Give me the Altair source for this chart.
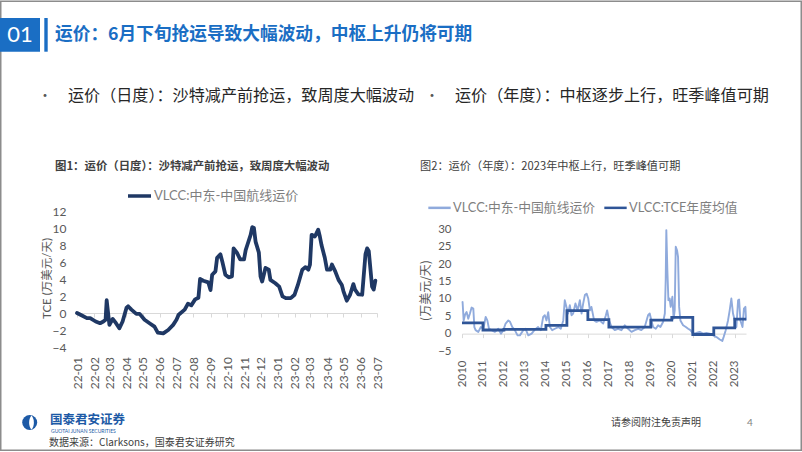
import math
import altair as alt
import pandas as pd

LATIN = "Lato, 'Noto Sans CJK SC', sans-serif"
CJK = "'Noto Sans CJK SC', 'Noto Sans', sans-serif"

# ---------------- texts ----------------
title_main = "运价：6月下旬抢运导致大幅波动，中枢上升仍将可期"
section_no = "01"
bullet_1 = "运价（日度）：沙特减产前抢运，致周度大幅波动"
bullet_2 = "运价（年度）：中枢逐步上行，旺季峰值可期"
fig1_title = "图1：运价（日度）：沙特减产前抢运，致周度大幅波动"
fig2_title = "图2：运价（年度）：2023年中枢上行，旺季峰值可期"
source_note = "数据来源：Clarksons，国泰君安证券研究"
disclaimer = "请参阅附注免责声明"
page_no = "4"
brand_cn = "国泰君安证券"
brand_en = "GUOTAI JUNAN SECURITIES"

s1 = "VLCC:中东-中国航线运价"
s2a = "VLCC:中东-中国航线运价"
s2b = "VLCC:TCE年度均值"
y1_title = "TCE (万美元/天)"
y2_title = "(万美元/天)"

# ---------------- chart 1 data (daily, 万美元/天) ----------------
dates1 = ["2022-01-01", "2022-01-10", "2022-01-19", "2022-01-25",
          "2022-02-04", "2022-02-12", "2022-02-18", "2022-02-22", "2022-02-24",
          "2022-03-01", "2022-03-07", "2022-03-13", "2022-03-19", "2022-03-25",
          "2022-04-01", "2022-04-04", "2022-04-10", "2022-04-19", "2022-04-25",
          "2022-05-04", "2022-05-13", "2022-05-22", "2022-05-28",
          "2022-06-07", "2022-06-16", "2022-06-25",
          "2022-07-01", "2022-07-05", "2022-07-16", "2022-07-22", "2022-07-28",
          "2022-08-04", "2022-08-10", "2022-08-13", "2022-08-19", "2022-08-28",
          "2022-09-01", "2022-09-04", "2022-09-10", "2022-09-13", "2022-09-19", "2022-09-23", "2022-09-28",
          "2022-10-04", "2022-10-10", "2022-10-13", "2022-10-19", "2022-10-25",
          "2022-11-01", "2022-11-04", "2022-11-07", "2022-11-13", "2022-11-16", "2022-11-19", "2022-11-22", "2022-11-28",
          "2022-12-01", "2022-12-04", "2022-12-10", "2022-12-16", "2022-12-19", "2022-12-28",
          "2023-01-04", "2023-01-10", "2023-01-16", "2023-01-25",
          "2023-02-01", "2023-02-07", "2023-02-15", "2023-02-21", "2023-02-26",
          "2023-03-01", "2023-03-04", "2023-03-10", "2023-03-16", "2023-03-19", "2023-03-22", "2023-03-28",
          "2023-04-01", "2023-04-07", "2023-04-10", "2023-04-16", "2023-04-22", "2023-04-28",
          "2023-05-01", "2023-05-07", "2023-05-13", "2023-05-19", "2023-05-22", "2023-05-28",
          "2023-06-04", "2023-06-10", "2023-06-13", "2023-06-16", "2023-06-22", "2023-06-25", "2023-06-28"]
tce1 = [0.0, -0.3, -0.6, -0.6,
        -1.0, -1.2, -1.0, -0.8, 1.5,
        -1.4, -0.7, -1.2, -1.8, -1.0,
        0.6, 0.8, 0.4, -0.1, -0.1,
        -0.8, -1.2, -1.6, -2.3,
        -2.4, -2.0, -1.4,
        -0.8, -0.2, 0.4, 1.1, 0.9,
        1.6, 1.8, 4.0, 3.8, 3.6,
        2.7, 4.5, 4.9, 6.5, 6.9, 5.9, 4.5,
        4.2, 4.3, 7.6, 7.1, 6.3,
        6.3, 7.4, 8.0, 9.2, 10.1, 10.0, 8.4, 7.1,
        4.3, 3.7, 5.3, 5.1, 3.9, 3.5,
        3.1, 1.95, 1.75, 1.75,
        2.15, 3.3, 5.1, 5.4, 5.1,
        5.7, 9.2, 9.0, 9.8, 9.0, 8.0, 6.5,
        5.1, 5.1, 5.7, 4.9, 3.9, 3.3,
        2.55, 1.45, 2.15, 3.4, 2.75, 2.2,
        2.15, 6.9, 7.6, 7.3, 3.1, 2.75, 3.8]
assert len(dates1) == len(tce1)

# ---------------- chart 2 data (weekly-ish, decimal years) ----------------
yrs2 = [2010.00, 2010.03, 2010.08, 2010.15, 2010.22, 2010.30, 2010.38, 2010.46, 2010.54, 2010.59, 2010.65, 2010.78, 2010.90,
        2011.02, 2011.13, 2011.21, 2011.29, 2011.41, 2011.57, 2011.73, 2011.86, 2011.97,
        2012.08, 2012.21, 2012.29, 2012.40, 2012.52, 2012.65, 2012.76, 2012.92,
        2013.03, 2013.16, 2013.32, 2013.48, 2013.63, 2013.76, 2013.87, 2013.95,
        2014.03, 2014.11, 2014.19, 2014.30, 2014.43, 2014.59, 2014.71, 2014.83, 2014.90, 2014.98,
        2015.06, 2015.14, 2015.22, 2015.30, 2015.41, 2015.51, 2015.62, 2015.70, 2015.78, 2015.86, 2015.94,
        2016.02, 2016.10, 2016.17, 2016.30, 2016.41, 2016.57, 2016.73, 2016.86, 2016.92,
        2017.01, 2017.13, 2017.28, 2017.44, 2017.60, 2017.76, 2017.92,
        2018.08, 2018.24, 2018.40, 2018.55, 2018.71, 2018.87, 2018.95,
        2019.03, 2019.11, 2019.24, 2019.35, 2019.46, 2019.59, 2019.67, 2019.71, 2019.74, 2019.79, 2019.84, 2019.90, 2019.95,
        2020.03, 2020.09, 2020.14, 2020.19, 2020.25, 2020.30, 2020.35, 2020.41, 2020.54, 2020.67, 2020.78, 2020.89,
        2021.01, 2021.17, 2021.33, 2021.49, 2021.65, 2021.81, 2021.97,
        2022.13, 2022.29, 2022.41, 2022.47, 2022.57, 2022.68, 2022.76, 2022.84, 2022.92,
        2023.00, 2023.08, 2023.16, 2023.21, 2023.27, 2023.37, 2023.44, 2023.51, 2023.54]
rate2 = [8.9, 9.1, 3.8, 5.5, 6.2, 4.3, 5.8, 7.5, 7.2, 1.9, 1.0, 0.5, 1.9,
         1.4, 4.8, 3.8, 1.4, 1.0, 0.5, 1.4, 0.0, 1.0,
         2.9, 3.8, 3.4, 1.9, 1.0, -0.5, -0.5, 1.0,
         1.4, -0.5, 0.0, 1.2, 1.9, 1.0, 4.8, 5.3,
         3.8, 6.2, 1.9, 1.0, 1.4, 1.9, 1.4, 3.8, 9.6, 7.7,
         5.8, 8.2, 5.3, 5.8, 8.7, 6.7, 9.6, 5.8, 8.7, 11.1, 11.5,
         10.1, 6.7, 7.7, 3.8, 3.4, 3.8, 2.9, 5.3, 6.7,
         3.8, 1.9, 1.0, 1.4, 1.0, 2.4, 1.4,
         0.5, 1.0, 1.4, 1.0, 1.9, 5.3, 5.8,
         3.8, 1.9, 1.4, 2.4, 1.9, 3.4, 5.8, 15.4, 29.8, 18.3, 9.6, 10.1, 7.7,
         10.6, 4.3, 6.7, 25.0, 24.0, 22.1, 7.7, 3.8, 2.4, 1.9, 1.4, 1.0,
         0.0, 0.2, 0.5, 0.0, 0.2, 0.0, -0.5,
         -1.0, -1.7, -2.1, -1.0, 1.0, 3.8, 6.7, 10.1, 5.8,
         3.8, 1.9, 9.6, 9.8, 3.8, 1.9, 7.2, 7.7, 3.8]
assert len(yrs2) == len(rate2)

avg_years = [2010, 2011, 2012, 2013, 2014, 2015, 2016, 2017, 2018, 2019, 2020, 2021, 2022, 2023]
avg_vals = [3.1, 1.05, 1.25, 1.25, 2.4, 6.6, 4.05, 1.9, 1.85, 3.9, 4.7, -0.25, 1.65, 4.2]
avg_end = 2023.54


def yr_to_date(y):
    yi = int(math.floor(y))
    start = pd.Timestamp(yi, 1, 1)
    end = pd.Timestamp(yi + 1, 1, 1)
    return (start + (end - start) * (y - yi)).strftime("%Y-%m-%d")


df1 = pd.DataFrame({"date": dates1, "tce": tce1, "s": s1})
df2 = pd.DataFrame({"date": [yr_to_date(y) for y in yrs2], "v": rate2, "s": s2a})
df2b = pd.DataFrame({
    "date": [yr_to_date(y) for y in avg_years] + [yr_to_date(avg_end)],
    "v": avg_vals + [avg_vals[-1]],
    "s": s2b,
})

# ---------------- layout (page pixels) ----------------
OX, OY = 77, 211          # left plot origin on the page
W1, H1 = 300, 136
SP = 85                   # -> right plot origin at x = 462
W2, H2 = 284, 140
Y2_MAX = 35.3

BLUE = "#1a6ec4"
BRAND = "#1d5aa6"
AX = "#595959"
ZERO = "#d9d9d9"


def px(X):
    return X - OX


def py(Y):
    return Y - OY


dummy = pd.DataFrame({"k": [0]})


def text_layer(s, X, Y, size, color, align="left", weight="normal", font=CJK):
    return alt.Chart(dummy).mark_text(
        text=s, align=align, baseline="middle", fontSize=size, color=color,
        fontWeight=weight, font=font
    ).encode(x=alt.value(px(X)), y=alt.value(py(Y)))


def rect_layer(X1, Y1, X2, Y2, **kw):
    return alt.Chart(dummy).mark_rect(**kw).encode(
        x=alt.value(px(X1)), x2=alt.value(px(X2)),
        y=alt.value(py(Y1)), y2=alt.value(py(Y2)))


def point_layer(X, Y, **kw):
    return alt.Chart(dummy).mark_point(**kw).encode(x=alt.value(px(X)), y=alt.value(py(Y)))


# page furniture (drawn in the left panel's coordinate system)
bounds = rect_layer(0, 0, 802, 452, fillOpacity=0, strokeOpacity=0)
border = rect_layer(0.75, 1.25, 801.25, 450.25, fillOpacity=0, stroke="#8c8c8c", strokeWidth=1.5)
box = rect_layer(0, 18, 40, 51.7, color=BLUE)
bar = rect_layer(44.3, 18, 47.7, 51.7, color=BLUE)
t_no = text_layer(section_no, 20, 35, 22, "white", align="center", font=LATIN)
t_title = text_layer(title_main, 55, 35, 17.7, BLUE, weight="bold")
b1 = text_layer("•", 45, 96, 14, AX, align="center")
t_b1 = text_layer(bullet_1, 68, 96, 16.1, "#262626")
b2 = text_layer("•", 432, 96, 14, AX, align="center")
t_b2 = text_layer(bullet_2, 455, 96, 16.1, "#262626")
t_f1 = text_layer(fig1_title, 55, 167, 11.4, "#404040", weight="bold")
t_f2 = text_layer(fig2_title, 420, 167, 11.2, "#404040")
logo = point_layer(29.7, 422.5, shape="circle", filled=True, size=225, color=BRAND, opacity=1)
logo_cut = point_layer(31.5, 422.5, shape="M0,-1 C0.45,-0.5 0.45,0.5 0,1 C-0.45,0.5 -0.45,-0.5 0,-1 Z",
                       filled=True, size=200, color="white", opacity=1)
t_brand = text_layer(brand_cn, 50, 419.5, 12.5, BRAND, weight="bold")
t_brand_en = text_layer(brand_en, 51, 430.5, 5, BRAND, font=LATIN)
t_disc = text_layer(disclaimer, 611, 423, 10, "#404040")
t_page = text_layer(page_no, 750, 423, 10, "#7f7f7f", align="center", font=LATIN)
t_src = text_layer(source_note, 49, 443, 10, "#404040")

# ---------------- chart 1 ----------------
x1_scale = alt.Scale(type="utc", domain=[alt.DateTime(year=2022, month=1, date=1, utc=True),
                                         alt.DateTime(year=2023, month=7, date=1, utc=True)])
y1_scale = alt.Scale(domain=[-4, 12], nice=False)
month_ticks = {"interval": "month", "step": 1}

line1 = alt.Chart(df1).mark_line(strokeWidth=3.8, strokeJoin="round", strokeCap="round").encode(
    x=alt.X("date:T", scale=x1_scale, axis=alt.Axis(
        orient="bottom", labelExpr="utcFormat(datum.value, '%y-%m')", tickCount=month_ticks,
        labelAngle=270, labelAlign="right", labelBaseline="middle", labelPadding=9.5,
        domain=False, ticks=False, grid=False, labelFontSize=12, labelColor=AX, labelFont=LATIN,
        labelOverlap=False, labelFlush=False, title=None)),
    y=alt.Y("tce:Q", scale=y1_scale, axis=alt.Axis(
        orient="left", values=[-4, -2, 0, 2, 4, 6, 8, 10, 12], domain=False, ticks=False, grid=False,
        labelPadding=11, labelFontSize=12, labelColor=AX, labelFont=LATIN,
        title=y1_title, titleFont=LATIN, titleFontSize=11.5, titleFontWeight="normal",
        titleColor=AX, titleAngle=270, titleX=-30, titleY=67,
        titleAlign="center", titleBaseline="middle")),
    color=alt.Color("s:N", scale=alt.Scale(domain=[s1], range=["#1f3864"]), legend=alt.Legend(
        orient="none", legendX=49, legendY=-28.5, direction="horizontal", title=None,
        symbolType="stroke", symbolSize=529, symbolStrokeWidth=3.5, labelFontSize=13,
        labelColor="#7f7f7f", labelFont=LATIN, labelOffset=1, padding=0, labelLimit=300)),
)

zero1 = alt.Chart(df1).mark_line(strokeOpacity=0).encode(
    x=alt.X("date:T", scale=x1_scale, axis=alt.Axis(
        orient="bottom", offset=-34, tickCount=month_ticks, labels=False, domain=True,
        domainColor=ZERO, ticks=True, tickColor=ZERO, tickSize=4, grid=False, title=None)),
    y=alt.Y("tce:Q", scale=y1_scale, axis=None),
)

left = alt.layer(
    bounds, border, box, bar, t_no, t_title, b1, t_b1, b2, t_b2, t_f1, t_f2,
    logo, logo_cut, t_brand, t_brand_en, t_disc, t_page, t_src,
    zero1, line1,
).resolve_axis(x="independent", y="independent").properties(width=W1, height=H1)

# ---------------- chart 2 ----------------
x2_scale = alt.Scale(type="utc", domain=[alt.DateTime(year=2010, month=1, date=1, utc=True),
                                         alt.DateTime(year=2023, month=7, date=16, utc=True)])
y2_scale = alt.Scale(domain=[-5, Y2_MAX], nice=False)
year_ticks = {"interval": "year", "step": 1}
c2 = alt.Scale(domain=[s2a, s2b], range=["#8faadc", "#2f5597"])
leg2 = alt.Legend(
    orient="none", legendX=-35, legendY=-16, direction="horizontal", title=None,
    symbolType="stroke", symbolSize=500, symbolStrokeWidth=2.5, labelFontSize=12.8,
    labelColor="#7f7f7f", labelFont=LATIN, labelOffset=1, columnPadding=3, padding=0, labelLimit=300)

light = alt.Chart(df2).mark_line(strokeWidth=1.9, strokeJoin="round").encode(
    x=alt.X("date:T", scale=x2_scale, axis=alt.Axis(
        orient="bottom", labelExpr="utcFormat(datum.value, '%Y')", tickCount=year_ticks,
        labelAngle=270, labelAlign="right", labelBaseline="middle", labelPadding=9,
        domain=False, ticks=False, grid=False, labelFontSize=11.5, labelColor=AX, labelFont=LATIN,
        labelOverlap=False, labelFlush=False, title=None)),
    y=alt.Y("v:Q", scale=y2_scale, axis=alt.Axis(
        orient="left", values=[-5, 0, 5, 10, 15, 20, 25, 30], domain=False, ticks=False, grid=False,
        labelPadding=11, labelFontSize=11.5, labelColor=AX, labelFont=LATIN,
        title=y2_title, titleFont=CJK, titleFontSize=12, titleFontWeight="normal",
        titleColor=AX, titleAngle=270, titleX=-37, titleY=79,
        titleAlign="center", titleBaseline="middle")),
    color=alt.Color("s:N", scale=c2, legend=leg2),
)

step = alt.Chart(df2b).mark_line(strokeWidth=2.8, interpolate="step-after").encode(
    x=alt.X("date:T", scale=x2_scale, axis=None),
    y=alt.Y("v:Q", scale=y2_scale, axis=None),
    color=alt.Color("s:N", scale=c2, legend=leg2),
)

zero_off = -(H2 - Y2_MAX / (Y2_MAX + 5) * H2)
zero2 = alt.Chart(df2).mark_line(strokeOpacity=0).encode(
    x=alt.X("date:T", scale=x2_scale, axis=alt.Axis(
        orient="bottom", offset=zero_off, tickCount=year_ticks, labels=False, domain=True,
        domainColor=ZERO, ticks=True, tickColor=ZERO, tickSize=4, grid=False, title=None)),
    y=alt.Y("v:Q", scale=y2_scale, axis=None),
)

right = alt.layer(zero2, light, step).resolve_axis(
    x="independent", y="independent").properties(width=W2, height=H2)

chart = alt.hconcat(left, right, spacing=SP, bounds="flush").resolve_scale(
    color="independent").properties(padding=0, background="white").configure_view(strokeWidth=0)

chart.save("out.html", embed_options={"renderer": "svg", "actions": False})
